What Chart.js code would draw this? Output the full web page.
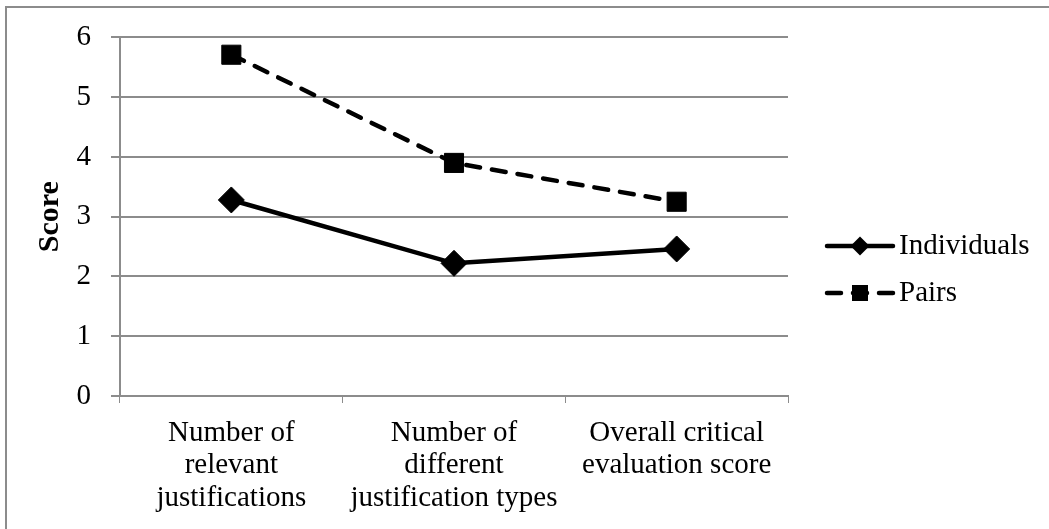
<!DOCTYPE html>
<html>
<head>
<meta charset="utf-8">
<script src="https://cdn.jsdelivr.net/npm/chart.js@4/dist/chart.umd.min.js"></script>
<style>
  body { margin: 0; background: #fff; }
  #wrap { position: relative; width: 1049px; height: 529px; }
  #frame { position: absolute; left: 5px; top: 6px; right: -10px; bottom: -10px;
           border-left: 2px solid #8c8c8c; border-top: 2px solid #8c8c8c; pointer-events: none; }
</style>
</head>
<body>
<div id="wrap">
  <canvas id="scoreChart"></canvas>
  <div id="frame"></div>
</div>
<script>
const categorias = [
  ["Number of", "relevant", "justifications"],
  ["Number of", "different", "justification types"],
  ["Overall critical", "evaluation score"]
];
const individuales = [3.28, 2.22, 2.46];
const parejas = [5.71, 3.9, 3.25];
const nombresSeries = ["Individuals", "Pairs"];

const fuente = "'Liberation Serif', 'Times New Roman', serif";
const gris = "#8c8c8c";

const canvas = document.getElementById("scoreChart");
canvas.width = 1049;
canvas.height = 529;
const ctx = canvas.getContext("2d");

// leyenda dibujada a mano, a la derecha
const leyendaPlugin = {
  id: "leyendaLinea",
  afterDraw(chart) {
    const c = chart.ctx;
    chart.data.datasets.forEach((ds, i) => {
      const y = 246 + i * 47;
      c.save();
      c.strokeStyle = ds.borderColor;
      c.lineWidth = ds.borderWidth;
      c.lineCap = "round";
      c.setLineDash(ds.borderDash || []);
      c.beginPath();
      c.moveTo(827, y);
      c.lineTo(893, y);
      c.stroke();
      c.setLineDash([]);
      c.fillStyle = ds.pointBackgroundColor;
      c.beginPath();
      if (ds.pointStyle === "rectRot") {
        const r = 9.5;
        c.moveTo(860, y - r);
        c.lineTo(860 + r, y);
        c.lineTo(860, y + r);
        c.lineTo(860 - r, y);
        c.closePath();
      } else {
        c.rect(852, y - 8, 16, 16);
      }
      c.fill();
      c.fillStyle = "#000";
      c.font = "29px " + fuente;
      c.textBaseline = "middle";
      c.textAlign = "left";
      c.fillText(ds.label, 899, y);
      c.restore();
    });
  }
};

new Chart(ctx, {
  type: "line",
  data: {
    labels: categorias,
    datasets: [
      {
        label: nombresSeries[0],
        data: individuales,
        borderColor: "#000",
        backgroundColor: "#000",
        borderWidth: 4.5,
        pointStyle: "rectRot",
        pointRadius: 13,
        pointHoverRadius: 13,
        pointBackgroundColor: "#000",
        pointBorderColor: "#000",
        pointBorderWidth: 1,
        tension: 0
      },
      {
        label: nombresSeries[1],
        data: parejas,
        borderColor: "#000",
        backgroundColor: "#000",
        borderWidth: 4.5,
        borderDash: [14, 12],
        borderCapStyle: "round",
        pointStyle: "rect",
        pointRadius: 13.5,
        pointHoverRadius: 13.5,
        pointBackgroundColor: "#000",
        pointBorderColor: "#000",
        pointBorderWidth: 1,
        tension: 0
      }
    ]
  },
  options: {
    responsive: false,
    animation: false,
    layout: { padding: { left: 6, right: 261, top: 33, bottom: 0 } },
    plugins: {
      legend: { display: false },
      tooltip: { enabled: false }
    },
    scales: {
      x: {
        offset: true,
        grid: { offset: true, drawOnChartArea: false, color: gris, tickLength: 7, lineWidth: 1 },
        border: { color: gris, width: 2 },
        ticks: { color: "#000", font: { family: fuente, size: 29, lineHeight: 1.12 }, padding: 14, maxRotation: 0, autoSkip: false },
        afterFit(scale) { scale.height = 133; }
      },
      y: {
        min: 0,
        max: 6,
        ticks: { stepSize: 1, color: "#000", font: { family: fuente, size: 29 }, padding: 20 },
        grid: { color: gris, lineWidth: 2, tickLength: 9 },
        border: { color: gris, width: 2 },
        title: { display: true, text: "Score", color: "#000", font: { family: fuente, size: 30, weight: "bold" }, padding: { top: 26, bottom: 0 } },
        afterFit(scale) { scale.width = 114; }
      }
    }
  },
  plugins: [leyendaPlugin]
});
</script>
</body>
</html>
